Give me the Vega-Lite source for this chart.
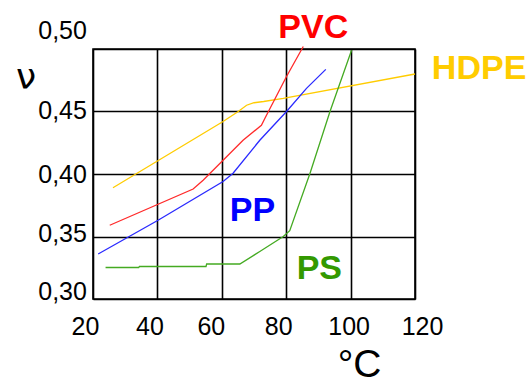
{
  "$schema": "https://vega.github.io/schema/vega-lite/v6.json",
  "autosize": "none",
  "width": 322,
  "height": 250,
  "padding": {"left": 93, "top": 49, "right": 115, "bottom": 86},
  "background": "#ffffff",
  "config": {
    "view": {"stroke": "#000000", "strokeWidth": 1.6},
    "font": "Liberation Sans"
  },
  "datasets": {
    "curves": [
      {"series": "HDPE", "T": 26.2, "nu": 0.389},
      {"series": "HDPE", "T": 60.4, "nu": 0.442},
      {"series": "HDPE", "T": 65.1, "nu": 0.45},
      {"series": "HDPE", "T": 67.7, "nu": 0.455},
      {"series": "HDPE", "T": 70.0, "nu": 0.457},
      {"series": "HDPE", "T": 73.0, "nu": 0.458},
      {"series": "HDPE", "T": 79.1, "nu": 0.4605},
      {"series": "HDPE", "T": 120.0, "nu": 0.48},
      {"series": "PVC", "T": 25.2, "nu": 0.359},
      {"series": "PVC", "T": 51.1, "nu": 0.388},
      {"series": "PVC", "T": 54.2, "nu": 0.395},
      {"series": "PVC", "T": 66.6, "nu": 0.427},
      {"series": "PVC", "T": 72.3, "nu": 0.439},
      {"series": "PVC", "T": 73.4, "nu": 0.4446},
      {"series": "PVC", "T": 80.1, "nu": 0.478},
      {"series": "PVC", "T": 85.3, "nu": 0.502},
      {"series": "PP", "T": 21.6, "nu": 0.336},
      {"series": "PP", "T": 40.2, "nu": 0.363},
      {"series": "PP", "T": 60.4, "nu": 0.394},
      {"series": "PP", "T": 63.5, "nu": 0.4006},
      {"series": "PP", "T": 71.8, "nu": 0.427},
      {"series": "PP", "T": 80.1, "nu": 0.45},
      {"series": "PP", "T": 86.3, "nu": 0.4685},
      {"series": "PP", "T": 92.3, "nu": 0.4837},
      {"series": "PS", "T": 23.9, "nu": 0.3252},
      {"series": "PS", "T": 34.2, "nu": 0.3252},
      {"series": "PS", "T": 34.4, "nu": 0.326},
      {"series": "PS", "T": 55.1, "nu": 0.326},
      {"series": "PS", "T": 55.3, "nu": 0.328},
      {"series": "PS", "T": 65.6, "nu": 0.328},
      {"series": "PS", "T": 71.8, "nu": 0.338},
      {"series": "PS", "T": 79.1, "nu": 0.35},
      {"series": "PS", "T": 81.1, "nu": 0.3546},
      {"series": "PS", "T": 87.4, "nu": 0.4006},
      {"series": "PS", "T": 93.6, "nu": 0.45},
      {"series": "PS", "T": 100.3, "nu": 0.499}
    ],
    "labels": [
      {"series": "PVC", "T": 88.4, "nu": 0.5087},
      {"series": "HDPE", "T": 139.9, "nu": 0.4757},
      {"series": "PP", "T": 69.5, "nu": 0.3628},
      {"series": "PS", "T": 90.3, "nu": 0.316}
    ]
  },
  "layer": [
    {
      "data": {"name": "curves"},
      "mark": {"type": "line", "strokeWidth": 1.3, "interpolate": "linear", "clip": false},
      "encoding": {
        "x": {
          "field": "T", "type": "quantitative",
          "scale": {"domain": [20, 120], "nice": false, "zero": false},
          "axis": {
            "values": [20, 40, 60, 80, 100, 120],
            "title": "°C",
            "titleFont": "Liberation Sans",
            "titleFontSize": 39,
            "titleFontWeight": "normal",
            "titleColor": "#000000",
            "titleAlign": "center",
            "titleBaseline": "alphabetic",
            "titleX": 266,
            "titleY": 77,
            "domain": false,
            "ticks": false,
            "tickSize": 0,
            "labelFont": "Liberation Sans",
            "labelFontSize": 25,
            "labelColor": "#000000",
            "labelBaseline": "alphabetic",
            "labelPadding": 35.7,
            "labelFlush": false,
            "labelOverlap": false,
            "labelOffset": {
              "condition": [
                {"test": "datum.value == 100", "value": -2},
                {"test": "datum.value == 120", "value": 7},
                {"test": "datum.value == 60", "value": -11}
              ],
              "value": -8
            },
            "grid": true,
            "gridColor": "#000000",
            "gridWidth": 1.6,
            "gridOpacity": 1
          }
        },
        "y": {
          "field": "nu", "type": "quantitative",
          "scale": {"domain": [0.3, 0.5], "nice": false, "zero": false},
          "axis": {
            "values": [0.3, 0.35, 0.4, 0.45, 0.5],
            "format": ".2f",
            "labelExpr": "replace(datum.label, '.', ',')",
            "title": "ν",
            "titleFont": "DejaVu Sans",
            "titleFontSize": 36,
            "titleFontWeight": "normal",
            "titleColor": "#000000",
            "titleAngle": 0,
            "titleAlign": "center",
            "titleBaseline": "alphabetic",
            "titleX": -67.5,
            "titleY": 39.3,
            "domain": false,
            "ticks": false,
            "tickSize": 0,
            "labelFont": "Liberation Sans",
            "labelFontSize": 25,
            "labelColor": "#000000",
            "labelBaseline": "alphabetic",
            "labelAlign": "right",
            "labelPadding": 6.6,
            "labelFlush": false,
            "labelOverlap": false,
            "labelOffset": {
              "condition": [
                {"test": "datum.value == 0.5", "value": -10.7},
                {"test": "datum.value == 0.35", "value": 5},
                {"test": "datum.value == 0.4", "value": 8.4},
                {"test": "datum.value == 0.45", "value": 6.6}
              ],
              "value": 0
            },
            "grid": true,
            "gridColor": "#000000",
            "gridWidth": 1.6,
            "gridOpacity": 1
          }
        },
        "color": {
          "field": "series", "type": "nominal",
          "scale": {"domain": ["HDPE", "PVC", "PP", "PS"], "range": ["#ffcc00", "#ff2a2a", "#2a2aff", "#44aa22"]},
          "legend": null
        }
      }
    },
    {
      "data": {"name": "labels"},
      "mark": {"type": "text", "font": "Liberation Sans", "fontWeight": "bold", "fontSize": 34, "align": "center", "baseline": "alphabetic", "clip": false},
      "encoding": {
        "x": {"field": "T", "type": "quantitative"},
        "y": {"field": "nu", "type": "quantitative"},
        "text": {"field": "series"},
        "color": {
          "field": "series", "type": "nominal",
          "scale": {"domain": ["HDPE", "PVC", "PP", "PS"], "range": ["#ffcc00", "#ff0000", "#0000ff", "#339900"]},
          "legend": null
        }
      }
    }
  ],
  "resolve": {"scale": {"color": "independent"}}
}
